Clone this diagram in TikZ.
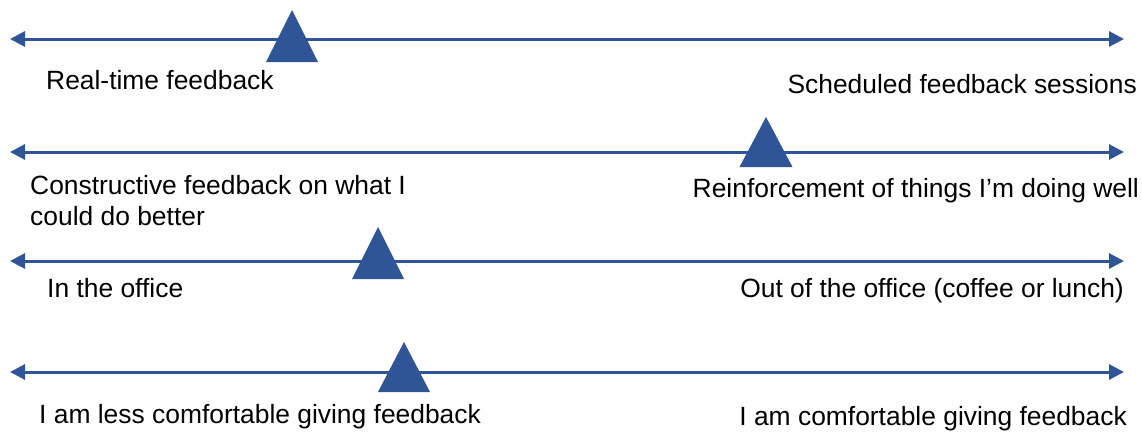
\documentclass[tikz,border=0pt]{standalone}
\usepackage{fontspec}
\setmainfont{Liberation Sans}
\usetikzlibrary{arrows.meta}
\definecolor{scaleblue}{HTML}{2F5597}
\tikzset{
  scaleline/.style={draw=scaleblue, line width=3pt, {Triangle[length=15pt,width=15pt]}-{Triangle[length=15pt,width=15pt]}},
  marker/.style={fill=scaleblue},
  lbl/.style={inner sep=0pt, font=\fontsize{26.4}{31}\selectfont, text=black},
}
\begin{document}
\begin{tikzpicture}[x=1pt,y=-1pt]
\useasboundingbox (0,0) rectangle (1142,431);
% row 1
\coordinate (l1) at (10,39);
\coordinate (r1) at (1124,39);
\draw[scaleline] (l1) -- (r1);
\coordinate (t1) at (292,10);
\fill[marker] (t1) -- ++(26,52) -- ++(-52,0) -- cycle;
\node[lbl, anchor=base west] (a1) at (46,89) {Real-time feedback};
\node[lbl, anchor=base east] (b1) at (1137,93) {Scheduled feedback sessions};
% row 2
\coordinate (l2) at (10,152);
\coordinate (r2) at (1124,152);
\draw[scaleline] (l2) -- (r2);
\coordinate (t2) at (766,117);
\fill[marker] (t2) -- ++(26.5,50) -- ++(-53,0) -- cycle;
\node[lbl, anchor=base west, align=left] (a2) at (30,225) {Constructive feedback on what I\\could do better};
\node[lbl, anchor=base east] (b2) at (1139,197) {Reinforcement of things I’m doing well};
% row 3
\coordinate (l3) at (10,261);
\coordinate (r3) at (1124,261);
\draw[scaleline] (l3) -- (r3);
\coordinate (t3) at (378,227);
\fill[marker] (t3) -- ++(26,52) -- ++(-52,0) -- cycle;
\node[lbl, anchor=base west] (a3) at (47,297) {In the office};
\node[lbl, anchor=base east] (b3) at (1124,297) {Out of the office (coffee or lunch)};
% row 4
\coordinate (l4) at (10,372);
\coordinate (r4) at (1124,372);
\draw[scaleline] (l4) -- (r4);
\coordinate (t4) at (404,342);
\fill[marker] (t4) -- ++(26,50) -- ++(-52,0) -- cycle;
\node[lbl, anchor=base west] (a4) at (39,423) {I am less comfortable giving feedback};
\node[lbl, anchor=base east] (b4) at (1127,425) {I am comfortable giving feedback};
\end{tikzpicture}
\end{document}
